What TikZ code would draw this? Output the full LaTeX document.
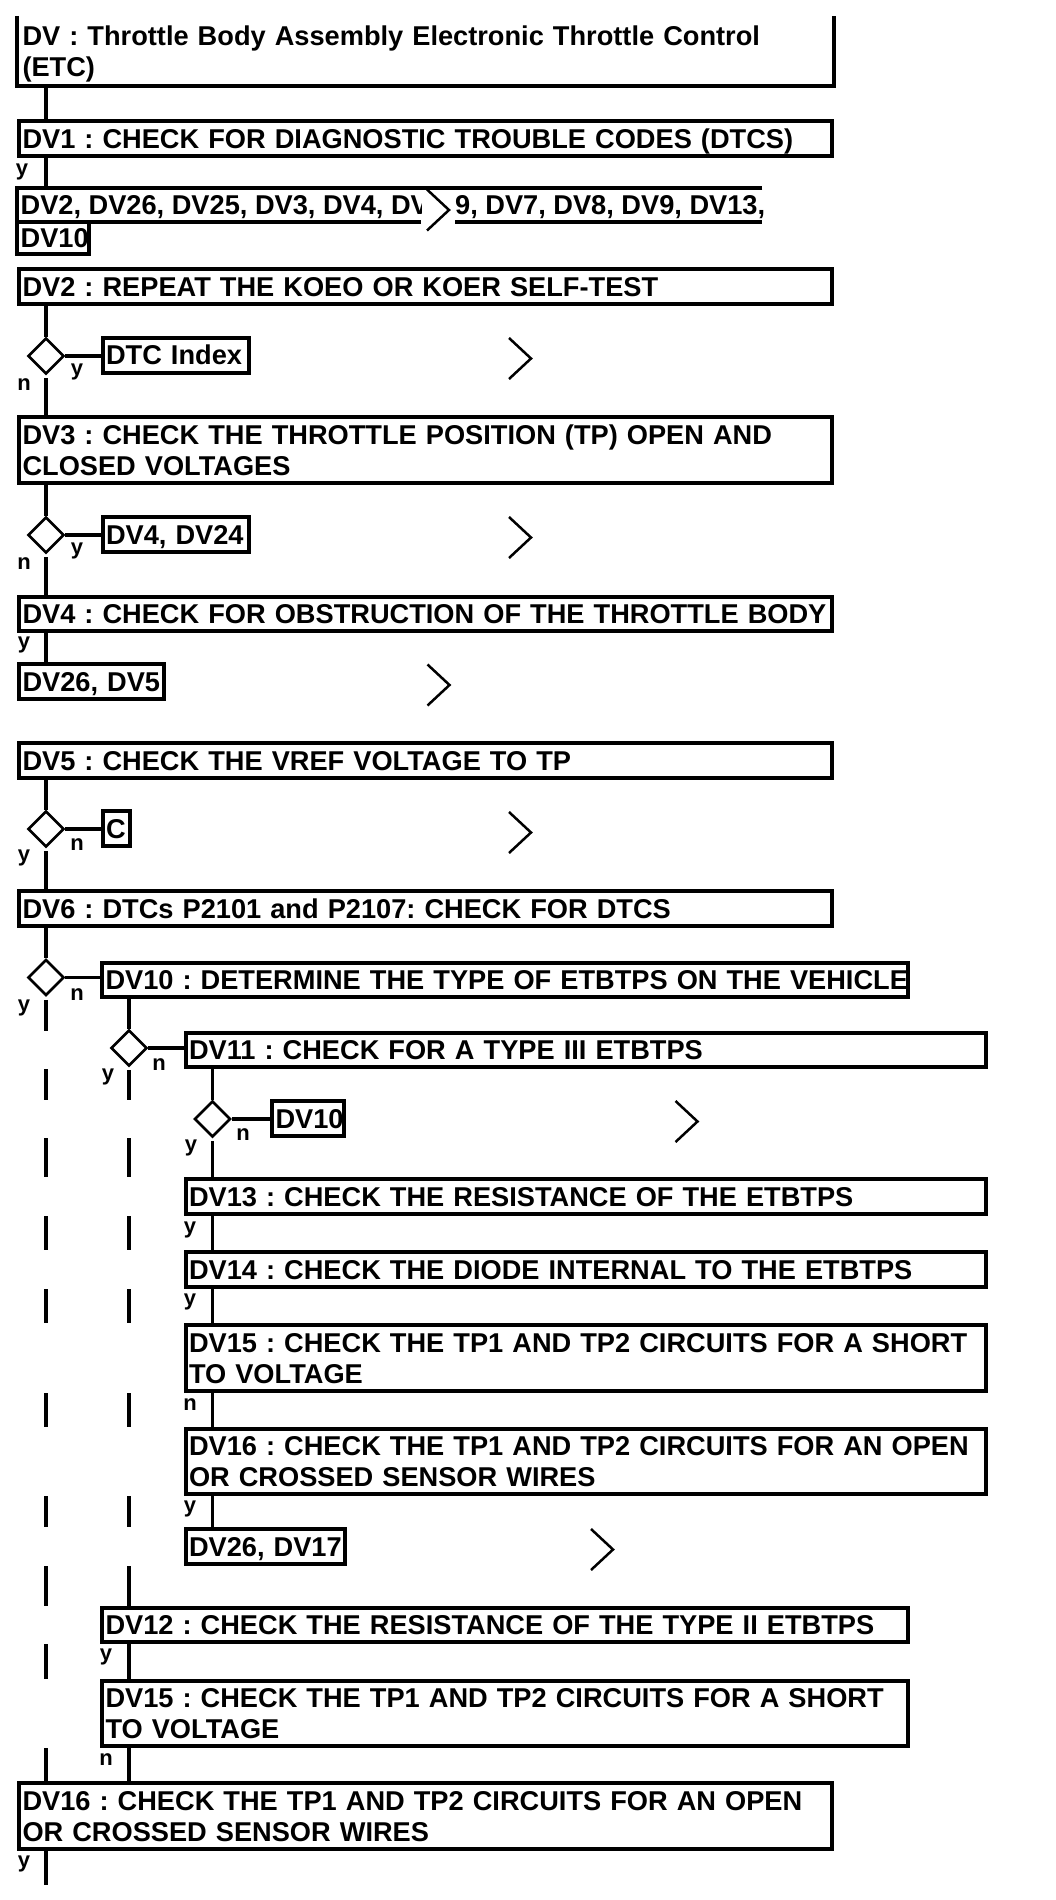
\documentclass[tikz,border=0pt]{standalone}
\usepackage{fontspec}
\setmainfont{Liberation Sans}
\usetikzlibrary{shapes.geometric}
\newcommand{\bxs}{\rule[-5.7pt]{0pt}{31pt}}
\newcommand{\drawchev}[1]{\draw[chev] ([xshift=-11pt,yshift=20.5pt]#1.center) -- ([xshift=11pt]#1.center) -- ([xshift=-11pt,yshift=-20.5pt]#1.center);}
\tikzset{
  bx/.style={draw, line width=4pt, rectangle, inner xsep=3.5pt, inner ysep=0pt, anchor=north west, align=left,
    font=\fontsize{27.2}{31}\selectfont\bfseries\frenchspacing, execute at begin node=\bxs, execute at end node=\bxs},
  bxl/.style={line width=4pt},
  conn/.style={line width=3.3pt},
  dia/.style={diamond, draw, line width=2.7pt, minimum width=36pt, minimum height=36pt, inner sep=0pt},
  lab/.style={font=\fontsize{22}{24}\selectfont\bfseries, inner sep=0pt},
  jmp/.style={minimum width=34pt, minimum height=41pt, inner sep=0pt},
  chev/.style={line width=2.5pt},
  ftxt/.style={font=\fontsize{27.2}{31}\selectfont\bfseries\frenchspacing, anchor=base west, inner sep=0pt},
  area/.style={inner sep=0pt, anchor=north west}
}
\begin{document}
\frenchspacing
\begin{tikzpicture}[x=1pt,y=-1pt]
\fill[white] (0,0) rectangle (1056,1900);
\useasboundingbox (0,0) rectangle (1056,1900);
\coordinate (c1) at (46,0);
\coordinate (c2) at (129,0);
\coordinate (c3) at (212.5,0);
\coordinate (cend) at (46,1885);

% ---- top box (top edge outside the picture)
\node[bx, draw=none, minimum width=813pt, minimum height=66pt, text width=806pt] (dv) at (17,16)
  {\mbox{DV : Throttle Body Assembly Electronic Throttle Control}\\\mbox{(ETC)}};
\draw[bxl] (dv.north west) -- (dv.south west) -- (dv.south east) -- (dv.north east);

\node[bx, minimum width=813pt, minimum height=35pt, text width=806pt] (dv1) at (17,119)
  {\mbox{DV1 : CHECK FOR DIAGNOSTIC TROUBLE CODES (DTCS)}};

% ---- wrapped list box
\node[area, minimum width=745pt, minimum height=34pt] (frag) at (17,188) {};
\node[area, minimum width=72pt, minimum height=32pt] (frag2) at (17,222) {};
\node[jmp] (j0) at (438,210) {};
\begin{scope}
  \clip (17,185) rectangle (421,240);
  \node[ftxt] (ft1) at (20.5,214.5) {DV2, DV26, DV25, DV3, DV4, DV};
\end{scope}
\node[ftxt] (ft2) at (455,214.5) {9, DV7, DV8, DV9, DV13,};
\node[ftxt] (ft3) at (20.5,247) {DV10};
\draw[bxl] (frag.north east) -- (frag.north west) -- (frag2.south west) -- (frag2.south east) -- (frag2.north east);
\draw[bxl] (frag.south west) -- (j0.west |- frag.south);
\draw[bxl] (j0.east |- frag.south) -- (frag.south east);
\drawchev{j0}

\node[bx, minimum width=813pt, minimum height=35pt, text width=806pt] (dv2) at (17,267)
  {\mbox{DV2 : REPEAT THE KOEO OR KOER SELF-TEST}};

\node[dia] (d1) at (46,356) {};
\node[bx, minimum width=146pt, minimum height=35pt, text width=139pt] (dtc) at (100.5,335.5) {\mbox{DTC Index}};
\node[jmp] (j1) at (520,358.5) {};
\drawchev{j1}

\node[bx, minimum width=813pt, minimum height=66pt, text width=806pt] (dv3) at (17,415)
  {\mbox{DV3 : CHECK THE THROTTLE POSITION (TP) OPEN AND}\\\mbox{CLOSED VOLTAGES}};

\node[dia] (d2) at (46,535) {};
\node[bx, minimum width=146pt, minimum height=35pt, text width=139pt] (b424) at (100.5,515) {\mbox{DV4, DV24}};
\node[jmp] (j2) at (520,537.5) {};
\drawchev{j2}

\node[bx, minimum width=813pt, minimum height=34pt, text width=806pt] (dv4) at (17,595)
  {\mbox{DV4 : CHECK FOR OBSTRUCTION OF THE THROTTLE BODY}};

\node[bx, minimum width=145pt, minimum height=35pt, text width=138pt] (b265) at (17,662) {\mbox{DV26, DV5}};
\node[jmp] (j3) at (438.5,685) {};
\drawchev{j3}

\node[bx, minimum width=813pt, minimum height=35pt, text width=806pt] (dv5) at (17,741)
  {\mbox{DV5 : CHECK THE VREF VOLTAGE TO TP}};

\node[dia] (d3) at (46,829) {};
\node[bx, minimum width=27pt, minimum height=35pt, text width=20pt] (cbox) at (100.5,809) {\mbox{C}};
\node[jmp] (j4) at (520,832.5) {};
\drawchev{j4}

\node[bx, minimum width=813pt, minimum height=35pt, text width=806pt] (dv6) at (17,889)
  {\mbox{DV6 : DTCs P2101 and P2107: CHECK FOR DTCS}};

\node[dia] (d4) at (46,977.5) {};
\node[bx, minimum width=806pt, minimum height=34pt, text width=799pt] (dv10) at (100,960.5)
  {\mbox{DV10 : DETERMINE THE TYPE OF ETBTPS ON THE VEHICLE}};

\node[dia] (d5) at (129,1048) {};
\node[bx, minimum width=800pt, minimum height=34.5pt, text width=793pt] (dv11) at (183.5,1030.5)
  {\mbox{DV11 : CHECK FOR A TYPE III ETBTPS}};

\node[dia] (d6) at (212.5,1119) {};
\node[bx, minimum width=72pt, minimum height=35pt, text width=65pt] (dv10s) at (270,1099) {\mbox{DV10}};
\node[jmp] (j5) at (686.5,1121.5) {};
\drawchev{j5}

\node[bx, minimum width=800pt, minimum height=35pt, text width=793pt] (dv13) at (183.5,1177)
  {\mbox{DV13 : CHECK THE RESISTANCE OF THE ETBTPS}};
\node[bx, minimum width=800pt, minimum height=35pt, text width=793pt] (dv14) at (183.5,1250)
  {\mbox{DV14 : CHECK THE DIODE INTERNAL TO THE ETBTPS}};
\node[bx, minimum width=800pt, minimum height=66pt, text width=793pt] (dv15) at (183.5,1323)
  {\mbox{DV15 : CHECK THE TP1 AND TP2 CIRCUITS FOR A SHORT}\\\mbox{TO VOLTAGE}};
\node[bx, minimum width=800pt, minimum height=65pt, text width=793pt] (dv16) at (183.5,1427)
  {\mbox{DV16 : CHECK THE TP1 AND TP2 CIRCUITS FOR AN OPEN}\\\mbox{OR CROSSED SENSOR WIRES}};
\node[bx, minimum width=159pt, minimum height=35pt, text width=152pt] (b2617) at (183.5,1527) {\mbox{DV26, DV17}};
\node[jmp] (j6) at (602,1549.5) {};
\drawchev{j6}

\node[bx, minimum width=806pt, minimum height=34pt, text width=799pt] (dv12) at (100,1606)
  {\mbox{DV12 : CHECK THE RESISTANCE OF THE TYPE II ETBTPS}};
\node[bx, minimum width=806pt, minimum height=65pt, text width=799pt] (dv15b) at (100,1679)
  {\mbox{DV15 : CHECK THE TP1 AND TP2 CIRCUITS FOR A SHORT}\\\mbox{TO VOLTAGE}};
\node[bx, minimum width=813pt, minimum height=66pt, text width=806pt] (dv16b) at (17,1781)
  {\mbox{DV16 : CHECK THE TP1 AND TP2 CIRCUITS FOR AN OPEN}\\\mbox{OR CROSSED SENSOR WIRES}};

% ---- connectors, main column
\draw[conn] (dv.south -| c1) -- (dv1.north -| c1);
\draw[conn] (dv1.south -| c1) -- (frag.north -| c1);
\draw[conn] (dv2.south -| c1) -- (d1.north);
\draw[conn] (d1.east) -- (d1.east -| dtc.west);
\draw[conn] ([yshift=-3pt]d1.south) -- (dv3.north -| c1);
\draw[conn] (dv3.south -| c1) -- (d2.north);
\draw[conn] (d2.east) -- (d2.east -| b424.west);
\draw[conn] ([yshift=-3pt]d2.south) -- (dv4.north -| c1);
\draw[conn] (dv4.south -| c1) -- (b265.north -| c1);
\draw[conn] (dv5.south -| c1) -- (d3.north);
\draw[conn] (d3.east) -- (d3.east -| cbox.west);
\draw[conn] ([yshift=-3pt]d3.south) -- (dv6.north -| c1);
\draw[conn] (dv6.south -| c1) -- (d4.north);
\draw[conn] (d4.east) -- (d4.east -| dv10.west);
\draw[conn] ([yshift=-3pt]d4.south) -- (c1 |- dv11.north);
% second column
\draw[conn] (dv10.south -| c2) -- (d5.north);
\draw[conn] (d5.east) -- (d5.east -| dv11.west);
\draw[conn] ([yshift=-3pt]d5.south) -- (c2 |- d6.north);
\draw[conn] (c1 |- dv11.south) -- (c1 |- d6.north);
% third column
\draw[conn] (dv11.south -| c3) -- (d6.north);
\draw[conn] (d6.east) -- (d6.east -| dv10s.west);
\draw[conn] ([yshift=-3pt]d6.south) -- (dv13.north -| c3);
\draw[conn] (c1 |- d6.south) -- (c1 |- dv13.north);
\draw[conn] (c2 |- d6.south) -- (c2 |- dv13.north);
\foreach \a/\b in {dv13/dv14, dv14/dv15, dv15/dv16, dv16/b2617}{
  \draw[conn] (\a.south -| c3) -- (\b.north -| c3);
  \draw[conn] (c1 |- \a.south) -- (c1 |- \b.north);
  \draw[conn] (c2 |- \a.south) -- (c2 |- \b.north);
}
\draw[conn] (c1 |- b2617.south) -- (c1 |- dv12.north);
\draw[conn] (b2617.south -| c2) -- (dv12.north -| c2);
\draw[conn] (c1 |- dv12.south) -- (c1 |- dv15b.north);
\draw[conn] (dv12.south -| c2) -- (dv15b.north -| c2);
\draw[conn] (dv15b.south -| c1) -- (dv16b.north -| c1);
\draw[conn] (dv15b.south -| c2) -- (dv16b.north -| c2);
\draw[conn] (dv16b.south -| c1) -- (cend);

% ---- labels
\node[lab] (l1) at (22,172) {y};
\node[lab] (l2) at (77,372) {y};
\node[lab] (l3) at (24,385) {n};
\node[lab] (l4) at (77,551) {y};
\node[lab] (l5) at (24,564) {n};
\node[lab] (l6) at (24,645) {y};
\node[lab] (l7) at (77,845) {n};
\node[lab] (l8) at (24,858) {y};
\node[lab] (l9) at (77,995) {n};
\node[lab] (l10) at (24,1008) {y};
\node[lab] (l11) at (159,1065) {n};
\node[lab] (l12) at (108,1077) {y};
\node[lab] (l13) at (243,1135) {n};
\node[lab] (l14) at (191,1148) {y};
\node[lab] (l15) at (190,1230) {y};
\node[lab] (l16) at (190,1302) {y};
\node[lab] (l17) at (190,1405) {n};
\node[lab] (l18) at (190,1509) {y};
\node[lab] (l19) at (106,1657) {y};
\node[lab] (l20) at (106,1760) {n};
\node[lab] (l21) at (24,1864) {y};
\end{tikzpicture}
\end{document}
